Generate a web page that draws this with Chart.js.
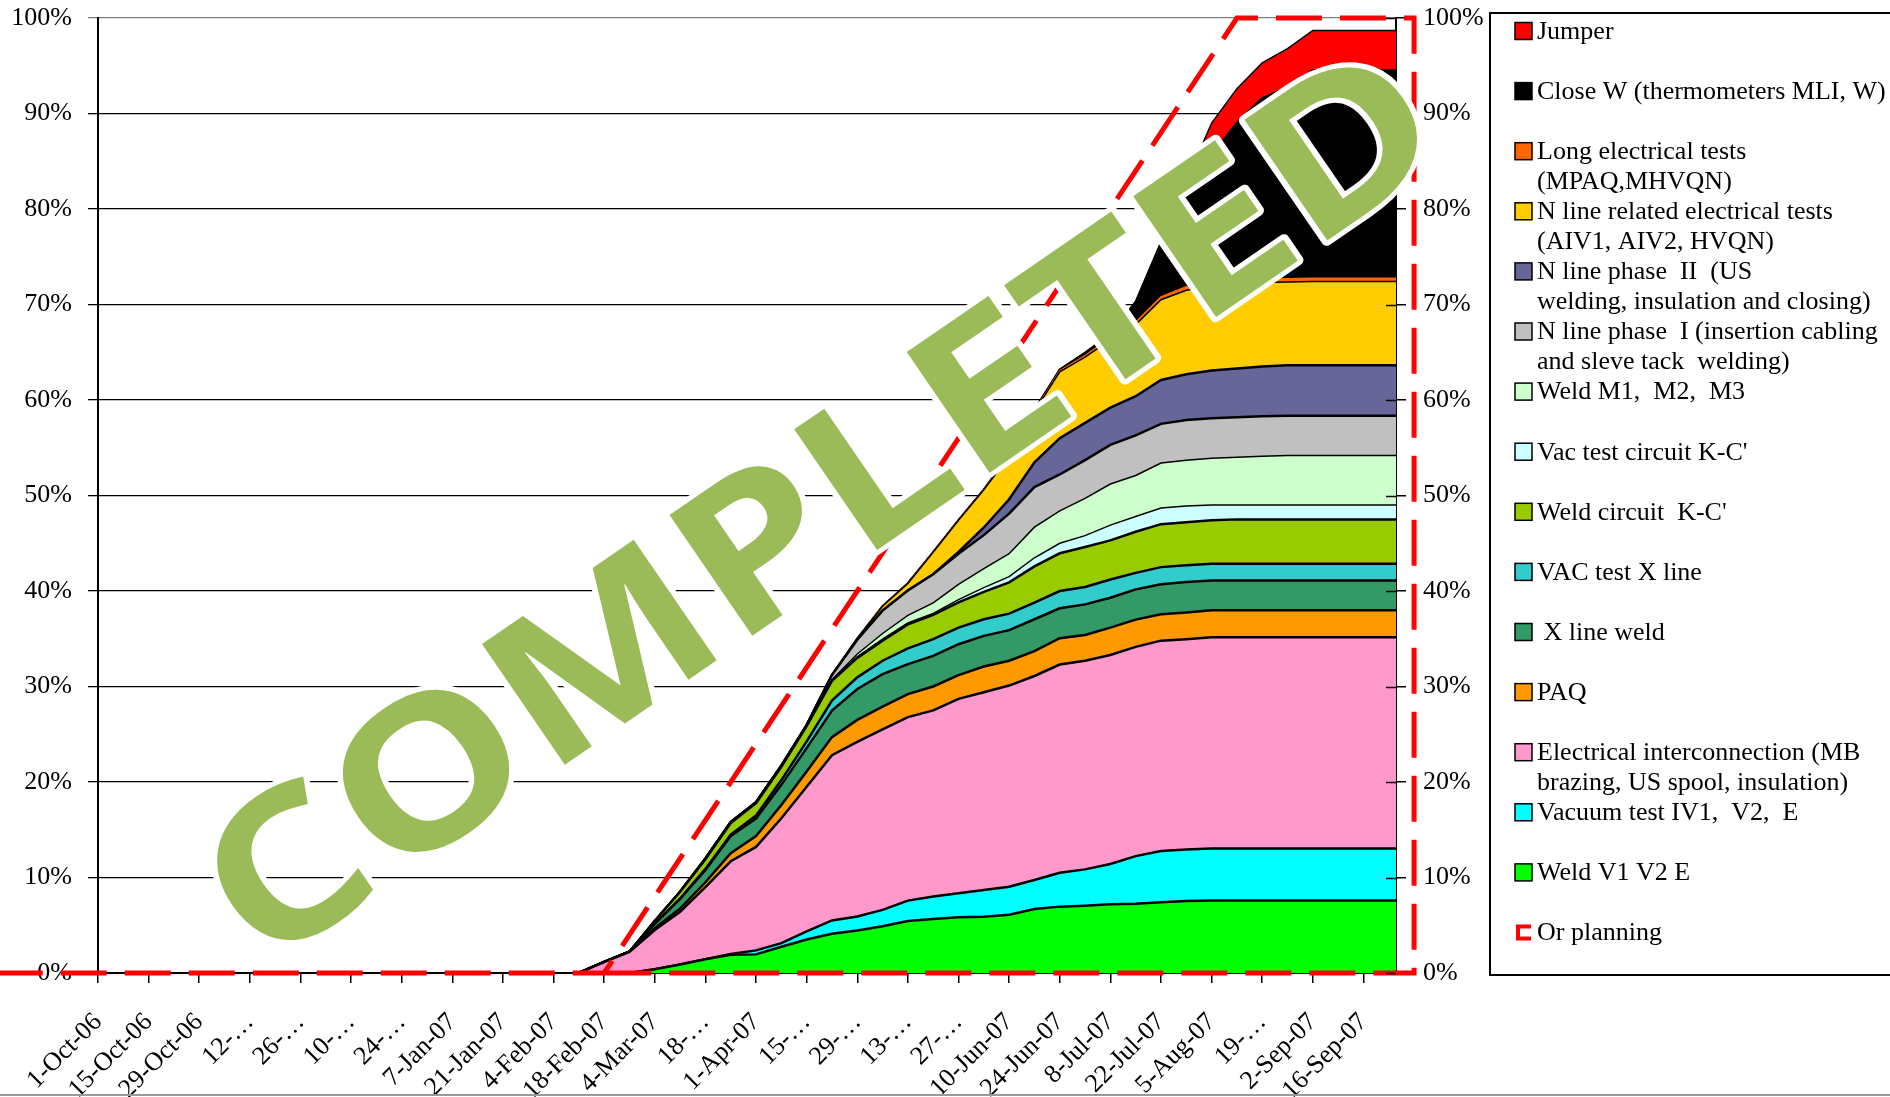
<!DOCTYPE html>
<html>
<head>
<meta charset="utf-8">
<script src="https://cdn.jsdelivr.net/npm/chart.js@4.4.1/dist/chart.umd.min.js"></script>
<style>
  html, body { margin: 0; padding: 0; background: #fff; }
  canvas { display: block; }
</style>
</head>
<body>
<canvas id="progressChart" width="1890" height="1097"></canvas>
<script>
// weekly status dates (nothing before 11-Feb-07, last point is the status date)
const dates = [
  "11-Feb-07", "18-Feb-07", "25-Feb-07", "4-Mar-07", "11-Mar-07", "18-Mar-07", "25-Mar-07",
  "1-Apr-07", "8-Apr-07", "15-Apr-07", "22-Apr-07", "29-Apr-07", "6-May-07", "13-May-07",
  "20-May-07", "27-May-07", "3-Jun-07", "10-Jun-07", "17-Jun-07", "24-Jun-07", "1-Jul-07",
  "8-Jul-07", "15-Jul-07", "22-Jul-07", "29-Jul-07", "5-Aug-07", "12-Aug-07", "19-Aug-07",
  "26-Aug-07", "2-Sep-07", "9-Sep-07", "16-Sep-07", "23-Sep-07", "25-Sep-07"
];

// axis labels, one every two weeks from 1-Oct-06 (long ones are cut like in the original)
const tickLabels = [
  "1-Oct-06", "15-Oct-06", "29-Oct-06", "12-\u2026", "26-\u2026", "10-\u2026", "24-\u2026",
  "7-Jan-07", "21-Jan-07", "4-Feb-07", "18-Feb-07", "4-Mar-07", "18-\u2026", "1-Apr-07",
  "15-\u2026", "29-\u2026", "13-\u2026", "27-\u2026", "10-Jun-07", "24-Jun-07", "8-Jul-07",
  "22-Jul-07", "5-Aug-07", "19-\u2026", "2-Sep-07", "16-Sep-07"
];

// % of work done per activity (stacked, bottom to top)
const weldV = [0, 0, 0, 0.4, 0.9, 1.45, 1.9, 1.95, 2.75, 3.5, 4.1, 4.45, 4.9, 5.45, 5.65, 5.85, 5.9, 6.1, 6.7, 6.95, 7.05, 7.2, 7.25, 7.4, 7.55, 7.6, 7.6, 7.6, 7.6, 7.6, 7.6, 7.6, 7.6, 7.6];
const vacuumTest = [0, 0, 0, 0, 0, 0, 0.1, 0.42, 0.38, 0.85, 1.4, 1.46, 1.71, 2.13, 2.35, 2.5, 2.8, 2.94, 3.04, 3.55, 3.8, 4.21, 4.99, 5.37, 5.39, 5.44, 5.44, 5.44, 5.44, 5.44, 5.44, 5.44, 5.44, 5.44];
const elecInterconnection = [0, 1.15, 2.2, 4.1, 5.5, 7.55, 9.7, 10.83, 13.07, 15.15, 17.3, 18.29, 18.89, 19.22, 19.5, 20.35, 20.7, 21.06, 21.36, 21.8, 21.85, 21.89, 21.91, 22.03, 22.01, 22.11, 22.11, 22.11, 22.11, 22.11, 22.11, 22.11, 22.11, 22.11];
const paq = [0, 0, 0.03, 0.2, 0.35, 0.5, 0.85, 1.13, 1.4, 1.6, 1.9, 2.3, 2.4, 2.4, 2.5, 2.5, 2.7, 2.6, 2.6, 2.76, 2.7, 2.87, 2.85, 2.77, 2.79, 2.83, 2.83, 2.83, 2.83, 2.83, 2.83, 2.83, 2.83, 2.83];
const xLineWeld = [0, 0, 0, 0.45, 1.0, 1.3, 1.8, 1.85, 2.1, 2.45, 2.78, 3.24, 3.4, 3.15, 3.2, 3.23, 3.2, 3.2, 3.34, 3.13, 3.2, 3.13, 3.17, 3.13, 3.2, 3.12, 3.12, 3.12, 3.12, 3.12, 3.12, 3.12, 3.12, 3.12];
const vacTestX = [0, 0, 0, 0, 0.05, 0.1, 0.15, 0.3, 0.5, 0.7, 1.04, 1.22, 1.4, 1.65, 1.76, 1.74, 1.74, 1.73, 1.74, 1.81, 1.82, 1.9, 1.73, 1.8, 1.76, 1.75, 1.75, 1.75, 1.75, 1.75, 1.75, 1.75, 1.75, 1.75];
const weldKC = [0, 0, 0, 0.3, 0.7, 1.0, 1.2, 1.3, 1.4, 1.6, 2.08, 2.04, 2.1, 2.5, 2.54, 2.63, 2.86, 3.27, 3.8, 3.95, 4.18, 4.1, 4.3, 4.5, 4.5, 4.55, 4.65, 4.65, 4.65, 4.65, 4.65, 4.65, 4.65, 4.65];
const vacTestKC = [0, 0, 0, 0, 0, 0, 0, 0, 0, 0, 0.05, 0.1, 0.15, 0.15, 0.15, 0.3, 0.45, 0.6, 0.9, 1.05, 1.2, 1.6, 1.6, 1.7, 1.7, 1.6, 1.5, 1.5, 1.5, 1.5, 1.5, 1.5, 1.5, 1.5];
const weldM = [0, 0, 0, 0, 0, 0, 0, 0, 0, 0, 0.05, 0.3, 0.6, 0.8, 1.1, 1.6, 2.0, 2.4, 3.2, 3.4, 3.9, 4.3, 4.3, 4.7, 4.8, 4.9, 5.0, 5.1, 5.2, 5.2, 5.2, 5.2, 5.2, 5.2];
const nLinePhase1 = [0, 0, 0, 0, 0, 0.1, 0.1, 0.1, 0.1, 0.1, 0.5, 1.5, 2.4, 2.6, 3.0, 3.2, 3.5, 4.2, 4.2, 3.8, 4.0, 4.1, 4.2, 4.1, 4.2, 4.2, 4.2, 4.2, 4.15, 4.15, 4.15, 4.15, 4.15, 4.15];
const nLinePhase2 = [0, 0, 0, 0, 0, 0, 0, 0, 0, 0, 0, 0, 0, 0, 0, 0.2, 0.8, 1.5, 2.6, 3.8, 3.9, 3.9, 4.1, 4.6, 4.8, 5.0, 5.1, 5.2, 5.3, 5.3, 5.3, 5.3, 5.3, 5.3];
const nLineElecTests = [0, 0, 0, 0, 0, 0, 0, 0, 0, 0, 0, 0.1, 0.45, 0.75, 2.3, 3.3, 3.95, 4.5, 5.3, 6.96, 6.9, 7.1, 7.5, 8.4, 8.8, 8.8, 8.9, 8.8, 8.7, 8.75, 8.75, 8.75, 8.75, 8.75];
const longElecTests = [0, 0, 0, 0, 0, 0, 0, 0, 0, 0, 0, 0, 0, 0, 0, 0, 0, 0.05, 0.05, 0.1, 0.15, 0.2, 0.25, 0.3, 0.35, 0.35, 0.35, 0.35, 0.35, 0.35, 0.35, 0.35, 0.35, 0.35];
const closeW = [0, 0, 0, 0, 0, 0, 0, 0, 0, 0, 0, 0, 0, 0, 0, 0, 0, 0.1, 0.1, 0.1, 0.25, 0.3, 2.0, 5.5, 10.45, 13.35, 16.45, 18.95, 20.0, 21.75, 21.75, 21.75, 21.75, 21.75];
const jumper = [0, 0, 0, 0, 0, 0, 0, 0, 0, 0, 0, 0, 0, 0, 0, 0, 0, 0, 0, 0.05, 0.1, 0.15, 0.2, 0.3, 0.6, 3.4, 3.6, 3.7, 4.1, 4.2, 4.2, 4.2, 4.2, 4.2];

// original planning envelope (outline drawn once, closing back along 0%)
const planDates = ["3-Sep-06", "18-Feb-07", "12-Aug-07", "30-Sep-07", "30-Sep-07", "18-Feb-07"];
const planValues = [0, 0, 100, 100, 0, 0];

const SERIF = "'Liberation Serif', 'Times New Roman', serif";
const MONTHS = { Jan: 0, Feb: 1, Mar: 2, Apr: 3, May: 4, Jun: 5, Jul: 6, Aug: 7, Sep: 8, Oct: 9, Nov: 10, Dec: 11 };
const START = Date.UTC(2006, 9, 1);

function dayOf(label) {
  const [d, m, y] = label.split("-");
  return (Date.UTC(2000 + Number(y), MONTHS[m], Number(d)) - START) / 86400000;
}

const xDays = dates.map(dayOf);

const series = [
  { label: "Weld V1 V2 E", data: weldV, color: "#00FF00" },
  { label: "Vacuum test IV1,  V2,  E", data: vacuumTest, color: "#00FFFF" },
  { label: "Electrical interconnection (MB\nbrazing, US spool, insulation)", data: elecInterconnection, color: "#FF99CC" },
  { label: "PAQ", data: paq, color: "#FF9900" },
  { label: " X line weld", data: xLineWeld, color: "#339966" },
  { label: "VAC test X line", data: vacTestX, color: "#33CCCC" },
  { label: "Weld circuit  K-C'", data: weldKC, color: "#99CC00" },
  { label: "Vac test circuit K-C'", data: vacTestKC, color: "#CCFFFF", width: 1.5 },
  { label: "Weld M1,  M2,  M3", data: weldM, color: "#CCFFCC", width: 1.5 },
  { label: "N line phase  I (insertion cabling\nand sleve tack  welding)", data: nLinePhase1, color: "#C0C0C0" },
  { label: "N line phase  II  (US\nwelding, insulation and closing)", data: nLinePhase2, color: "#666699" },
  { label: "N line related electrical tests\n(AIV1, AIV2, HVQN)", data: nLineElecTests, color: "#FFCC00", width: 1.5 },
  { label: "Long electrical tests\n(MPAQ,MHVQN)", data: longElecTests, color: "#FF6600", line: "#FF6600", width: 1.5 },
  { label: "Close W (thermometers MLI, W)", data: closeW, color: "#000000" },
  { label: "Jumper", data: jumper, color: "#FF0000", width: 1.5 }
];

const datasets = series.map((s, i) => ({
  label: s.label,
  data: s.data.map((v, j) => ({ x: xDays[j], y: v })),
  backgroundColor: s.color,
  borderColor: s.line || "#000",
  borderWidth: s.width || 2.5,
  fill: i === 0 ? "origin" : "-1",
  pointRadius: 0,
  tension: 0,
  yAxisID: "y"
}));

datasets.push({
  label: "Or planning",
  data: planDates.map((d, j) => ({ x: dayOf(d), y: planValues[j] })),
  borderColor: "#FF0000",
  borderWidth: 5,
  borderDash: [46, 18],
  fill: false,
  pointRadius: 0,
  tension: 0,
  yAxisID: "yp",
  clip: false,
  order: -1
});

// inner half of the right axis tick marks, over the areas
const rightTicks = {
  id: "rightTicks",
  afterDatasetsDraw(chart) {
    const { ctx, chartArea } = chart;
    const s = chart.scales.y2;
    ctx.save();
    ctx.strokeStyle = "#000";
    ctx.lineWidth = 1.5;
    s.ticks.forEach((t) => {
      const y = Math.round(s.getPixelForValue(t.value)) + 0.5;
      ctx.beginPath();
      ctx.moveTo(chartArea.right - 10, y);
      ctx.lineTo(chartArea.right, y);
      ctx.stroke();
    });
    ctx.restore();
  }
};

// legend box on the right, top of the stack first
const sideLegend = {
  id: "sideLegend",
  afterDraw(chart) {
    const ctx = chart.ctx;
    const left = 1490, top = 13, bottom = 975;
    ctx.save();
    ctx.strokeStyle = "#000";
    ctx.lineWidth = 2;
    ctx.strokeRect(left, top, 500, bottom - top);

    ctx.strokeStyle = "#9a9a9a";
    ctx.beginPath();
    ctx.moveTo(0, 1095);
    ctx.lineTo(1890, 1095);
    ctx.stroke();

    ctx.font = "26px " + SERIF;
    ctx.textBaseline = "middle";
    ctx.fillStyle = "#000";
    const items = chart.data.datasets.slice(0, series.length).reverse();
    items.push(chart.data.datasets[series.length]);
    items.forEach((ds, i) => {
      const y = 31 + i * 60.1;
      if (ds.yAxisID === "yp") {
        ctx.strokeStyle = "#FF0000";
        ctx.lineWidth = 4;
        ctx.beginPath();
        ctx.moveTo(1531, y - 6);
        ctx.lineTo(1518, y - 6);
        ctx.lineTo(1518, y + 6);
        ctx.lineTo(1531, y + 6);
        ctx.stroke();
      } else {
        ctx.fillStyle = ds.backgroundColor;
        ctx.fillRect(1515, y - 8.5, 17, 17);
        ctx.strokeStyle = "#000";
        ctx.lineWidth = 1.5;
        ctx.strokeRect(1515, y - 8.5, 17, 17);
      }
      ctx.fillStyle = "#000";
      ds.label.split("\n").forEach((line, k) => {
        ctx.fillText(line, 1537, y + 1 + k * 30);
      });
    });
    ctx.restore();
  }
};

const stamp = {
  id: "stamp",
  afterDraw(chart) {
    const ctx = chart.ctx;
    const text = "COMPLETED";
    ctx.save();
    ctx.translate(818, 502);
    ctx.rotate(-34.5 * Math.PI / 180);
    ctx.font = "bold 205px 'Open Sans'";
    const w = ctx.measureText(text).width;
    ctx.scale(1450 / w, 1);
    ctx.textAlign = "center";
    ctx.textBaseline = "alphabetic";
    ctx.lineJoin = "round";
    ctx.lineWidth = 10;
    ctx.strokeStyle = "#fff";
    ctx.strokeText(text, 0, 73);
    ctx.fillStyle = "#9BBB59";
    ctx.fillText(text, 0, 73);
    ctx.restore();
  }
};

const tickFont = { family: SERIF, size: 26 };

// the percent labels must not push the plot area down
const fixVertical = (width) => (s) => {
  s.width = width;
  s.paddingTop = 0;
  s.paddingBottom = 0;
};

new Chart(document.getElementById("progressChart").getContext("2d"), {
  type: "line",
  data: { datasets },
  options: {
    responsive: false,
    animation: false,
    devicePixelRatio: 1,
    layout: { autoPadding: false, padding: { top: 18, right: 400, bottom: 0, left: 0 } },
    plugins: {
      legend: { display: false },
      tooltip: { enabled: false }
    },
    scales: {
      x: {
        type: "linear",
        min: 0,
        max: xDays[xDays.length - 1],
        afterBuildTicks: (s) => {
          s.ticks = tickLabels.map((_, i) => ({ value: i * 14 }));
        },
        ticks: {
          autoSkip: false,
          minRotation: 45,
          maxRotation: 45,
          padding: 24,
          color: "#000",
          font: tickFont,
          callback: (v, i) => tickLabels[i]
        },
        grid: { drawOnChartArea: false, tickLength: 10, color: "#000", lineWidth: 1.5 },
        border: { color: "#000", width: 2 },
        afterFit: (s) => { s.height = 124; }
      },
      y: {
        stacked: true,
        min: 0,
        max: 100,
        ticks: {
          stepSize: 10,
          padding: 16,
          color: "#000",
          font: tickFont,
          callback: (v) => v + "%"
        },
        grid: {
          color: (c) => (c.tick && c.tick.value === 100 ? "#808080" : "#000"),
          lineWidth: 1.3,
          tickLength: 10
        },
        border: { color: "#000", width: 2 },
        afterFit: fixVertical(98)
      },
      y2: {
        position: "right",
        min: 0,
        max: 100,
        z: 1,
        ticks: {
          stepSize: 10,
          padding: 17,
          color: "#000",
          font: tickFont,
          callback: (v) => v + "%"
        },
        grid: { drawOnChartArea: false, tickLength: 10, color: "#000", lineWidth: 1.5 },
        border: { color: "#000", width: 2 },
        afterFit: fixVertical(94)
      },
      yp: { display: false, min: 0, max: 100 }
    }
  },
  plugins: [rightTicks, sideLegend, stamp]
});
</script>
</body>
</html>
